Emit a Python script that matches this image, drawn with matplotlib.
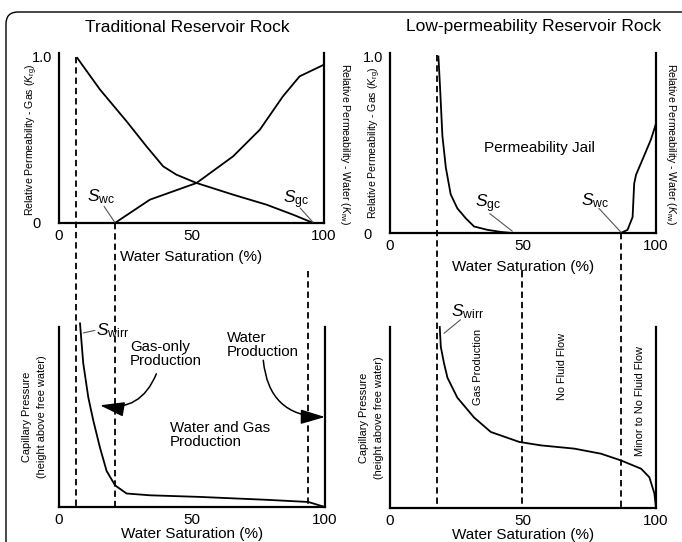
import matplotlib
matplotlib.use("Agg")
import matplotlib.pyplot as plt
import matplotlib.transforms as mtransforms
from matplotlib.patches import FancyArrowPatch, FancyBboxPatch

plt.rcParams["font.family"] = ["Liberation Sans", "DejaVu Sans"]
plt.rcParams["mathtext.fontset"] = "custom"
plt.rcParams["mathtext.rm"] = "Liberation Sans"
plt.rcParams["mathtext.it"] = "Liberation Sans:italic"

# ---- data (water saturation %, relative value) ----
trad_gas_sw = [6.9, 15.5, 25.5, 33.0, 39.3, 44.3, 51.9, 65.7, 78.3, 88.3, 96.0]
trad_gas_k = [0.99, 0.80, 0.61, 0.46, 0.34, 0.29, 0.24, 0.17, 0.11, 0.05, 0.0]
trad_wat_sw = [21.1, 34.3, 51.9, 65.7, 75.8, 84.5, 90.8, 100.0]
trad_wat_k = [0.0, 0.14, 0.24, 0.40, 0.56, 0.76, 0.88, 0.95]

low_gas_sw = [18.2, 18.8, 19.7, 21.0, 22.8, 25.3, 28.5, 31.6, 36.6, 41.7, 46.0]
low_gas_k = [1.0, 0.83, 0.55, 0.37, 0.22, 0.14, 0.083, 0.037, 0.018, 0.006, 0.0]
low_wat_sw = [86.8, 89.3, 91.2, 91.8, 92.5, 95.6, 98.1, 100.0]
low_wat_k = [0.0, 0.018, 0.09, 0.28, 0.33, 0.44, 0.53, 0.62]

trad_pc_sw = [7.9, 9.1, 11.0, 12.9, 15.4, 17.9, 21.1, 25.4, 34.2, 53.0, 78.0, 93.7, 100.0]
trad_pc = [1.02, 0.80, 0.61, 0.48, 0.33, 0.20, 0.12, 0.075, 0.065, 0.056, 0.04, 0.028, 0.0]

low_pc_sw = [18.7, 19.1, 20.3, 21.6, 25.3, 31.6, 37.9, 48.6, 56.7, 69.3, 79.3, 86.8, 94.4, 97.5, 99.4, 100.0]
low_pc = [1.0, 0.89, 0.80, 0.72, 0.61, 0.50, 0.42, 0.365, 0.346, 0.328, 0.30, 0.263, 0.217, 0.17, 0.08, 0.0]

# saturation markers (%)
trad_swirr, trad_swc, trad_sgc = 6.4, 21.0, 94.0
low_swirr, low_mid, low_swc = 17.7, 49.5, 86.8

xticks = [0, 50, 100]
xtick_labels = ["0", "50", "100"]
yticks = [0, 1.0]
ytick_labels = ["0", "1.0"]

fig = plt.figure(figsize=(6.82, 5.42), dpi=100)
W, H = 682.0, 542.0
SMALL = 7.9   # condensed-looking axis titles in the original
KR_FS = 7.6


def frac(x0, y0, x1, y1):
    return [x0 / W, 1 - y1 / H, (x1 - x0) / W, (y1 - y0) / H]


ax_tl = fig.add_axes(frac(59, 53, 324, 223))
ax_tr = fig.add_axes(frac(390, 53, 656, 233))
ax_bl = fig.add_axes(frac(59, 327, 325, 507))
ax_br = fig.add_axes(frac(390, 327, 656, 508))

for ax in (ax_tl, ax_tr, ax_bl, ax_br):
    ax.set_xlim(0, 100)
    ax.spines["top"].set_visible(False)
    for s in ("left", "right", "bottom"):
        ax.spines[s].set_linewidth(1.6)
    ax.set_xticks(xticks)
    ax.set_xticklabels(xtick_labels, fontsize=11)
    ax.tick_params(axis="x", length=0, pad=4)
    ax.set_facecolor("none")

for ax in (ax_tl, ax_tr):
    ax.set_ylim(0, 1.02)
    ax.set_yticks(yticks)
    ax.set_yticklabels(ytick_labels, fontsize=10.5)
    ax.tick_params(axis="y", length=0, pad=19.5)
    for lab in ax.get_yticklabels():
        lab.set_horizontalalignment("left")
    ax.set_xlabel("Water Saturation (%)", fontsize=11, labelpad=5)
    ax.set_ylabel(r"Relative Permeability - Gas ($K_{\rm rg}$)", fontsize=KR_FS)

for ax in (ax_bl, ax_br):
    ax.set_ylim(0, 1.0)
    ax.set_yticks([])
    ax.set_xlabel("Water Saturation (%)", fontsize=11, labelpad=0)
    ax.set_ylabel("Capillary Pressure\n(height above free water)", fontsize=SMALL,
                  linespacing=1.65)

ax_tl.yaxis.set_label_coords(-0.072, 0.491)
ax_tr.yaxis.set_label_coords(-0.026, 0.50)
ax_bl.yaxis.set_label_coords(-0.045, 0.5)
ax_br.yaxis.set_label_coords(-0.023, 0.5)

fig.text(187 / W, 1 - 27 / H, "Traditional Reservoir Rock", fontsize=12.5,
         ha="center", va="center")
fig.text(534 / W, 1 - 27 / H, "Low-permeability Reservoir Rock", fontsize=12.5,
         ha="center", va="center")

fig.text(345 / W, 1 - 144 / H, r"Relative Permeability - Water ($K_{\rm rw}$)",
         fontsize=KR_FS, rotation=270, ha="center", va="center")
fig.text(671 / W, 1 - 144 / H, r"Relative Permeability - Water ($K_{\rm rw}$)",
         fontsize=KR_FS, rotation=270, ha="center", va="center")

lw = 1.3
ax_tl.plot(trad_gas_sw, trad_gas_k, color="black", lw=lw)
ax_tl.plot(trad_wat_sw, trad_wat_k, color="black", lw=lw)
ax_tr.plot(low_gas_sw, low_gas_k, color="black", lw=lw, clip_on=False)
ax_tr.plot(low_wat_sw, low_wat_k, color="black", lw=lw)
ax_bl.plot(trad_pc_sw, trad_pc, color="black", lw=lw, clip_on=False)
ax_br.plot(low_pc_sw, low_pc, color="black", lw=lw, clip_on=False)

# dashed saturation markers crossing both panels
dash = dict(color="black", lw=1.3, ls=(0, (3.5, 2.2)))


def vline(ax, x, y_top_px, y_bot_px):
    tr = mtransforms.blended_transform_factory(ax.transData, fig.transFigure)
    ax.plot([x, x], [1 - y_top_px / H, 1 - y_bot_px / H], transform=tr,
            clip_on=False, **dash)


vline(ax_tl, trad_swirr, 57, 507)
vline(ax_tl, trad_swc, 223, 507)
vline(ax_tl, trad_sgc, 271, 507)
vline(ax_tr, low_swirr, 55, 508)
vline(ax_tr, low_mid, 271, 508)
vline(ax_tr, low_swc, 233, 508)

# labels with leader lines
leader = dict(arrowstyle="-", color="#555555", lw=0.8, shrinkA=0, shrinkB=0)
S_FS = 12.5
ax_tl.annotate("", xy=(21, 0.005), xytext=(17, 0.10), arrowprops=leader)
ax_tl.text(16, 0.156, r"$S_{\rm wc}$", fontsize=S_FS, ha="center", va="center")
ax_tl.annotate("", xy=(95.8, 0.005), xytext=(91, 0.09), arrowprops=leader)
ax_tl.text(89.3, 0.14, r"$S_{\rm gc}$", fontsize=S_FS, ha="center", va="center")

ax_tr.text(56, 0.48, "Permeability Jail", fontsize=11, ha="center", va="center")
ax_tr.annotate("", xy=(46, 0.01), xytext=(37.5, 0.11), arrowprops=leader)
ax_tr.text(37, 0.165, r"$S_{\rm gc}$", fontsize=S_FS, ha="center", va="center")
ax_tr.annotate("", xy=(86.8, 0.005), xytext=(78.5, 0.14), arrowprops=leader)
ax_tr.text(77, 0.185, r"$S_{\rm wc}$", fontsize=S_FS, ha="center", va="center")

ax_bl.annotate("", xy=(9.1, 0.967), xytext=(13.5, 0.981), arrowprops=leader,
               annotation_clip=False)
ax_bl.text(14.0, 0.98, r"$S_{\rm wirr}$", fontsize=S_FS, ha="left", va="center",
           clip_on=False)
ax_bl.text(26.7, 0.848, "Gas-only\nProduction", fontsize=10.8, ha="left", va="center",
           linespacing=1.0)
ax_bl.text(63, 0.90, "Water\nProduction", fontsize=10.8, ha="left", va="center",
           linespacing=1.0)
ax_bl.text(41.7, 0.40, "Water and Gas\nProduction", fontsize=10.8, ha="left",
           va="center", linespacing=1.0)

arrow_style = "-|>,head_length=1.0,head_width=0.3"
ax_bl.add_patch(FancyArrowPatch((36.6, 0.74), (15.4, 0.565), arrowstyle=arrow_style,
                                connectionstyle="arc3,rad=-0.4", mutation_scale=15,
                                color="black", lw=1.1, shrinkA=0, shrinkB=0))
ax_bl.add_patch(FancyArrowPatch((76.8, 0.815), (100, 0.50), arrowstyle=arrow_style,
                                connectionstyle="arc3,rad=0.45", mutation_scale=15,
                                color="black", lw=1.1, shrinkA=0, shrinkB=0,
                                clip_on=False))

ax_br.annotate("", xy=(20.3, 0.965), xytext=(26.5, 1.04), arrowprops=leader,
               annotation_clip=False)
ax_br.text(22.8, 1.083, r"$S_{\rm wirr}$", fontsize=S_FS, ha="left", va="center",
           clip_on=False)
ax_br.text(32.9, 0.78, "Gas Production", fontsize=SMALL, rotation=90,
           ha="center", va="center")
ax_br.text(64.5, 0.78, "No Fluid Flow", fontsize=SMALL, rotation=90,
           ha="center", va="center")
ax_br.text(94, 0.59, "Minor to No Fluid Flow", fontsize=SMALL,
           rotation=90, ha="center", va="center")

# rounded outer frame (partly cropped at right / bottom)
frame = FancyBboxPatch((6, -30), 720, 560, boxstyle="round,pad=0,rounding_size=12",
                       transform=mtransforms.IdentityTransform(), fill=False,
                       edgecolor="black", lw=1.0)
fig.add_artist(frame)

fig.savefig("out.png", dpi=100)
